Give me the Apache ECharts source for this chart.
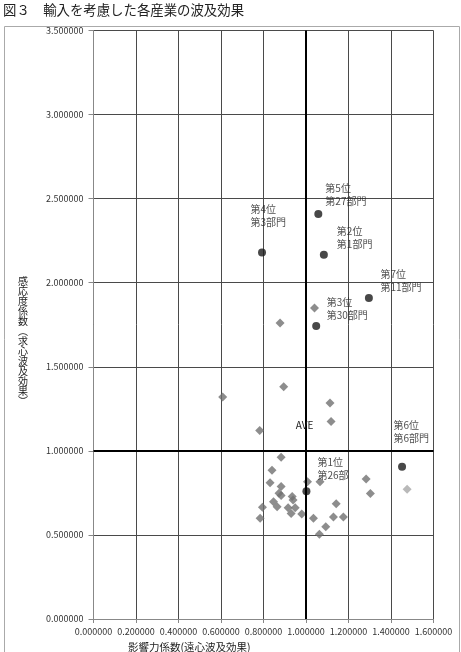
<!DOCTYPE html>
<html>
<head>
<meta charset="utf-8">
<script src="https://cdn.jsdelivr.net/npm/echarts@6/dist/echarts.min.js"></script>
<style>
    html, body {margin: 0; padding: 0; background: #fff;}
    #chart {width: 461px; height: 652px;}
</style>
</head>
<body>
<div id="chart"></div>
<script>
// 上位部門（●）
const topPoints = [
    [1.058, 2.409],
    [0.793, 2.179],
    [1.084, 2.167],
    [1.296, 1.909],
    [1.048, 1.742],
    [1.452, 0.905],
    [1.002, 0.760]
];
const topLabels = ['第5位\n第27部門', '第4位\n第3部門', '第2位\n第1部門', '第7位\n第11部門',
    '第3位\n第30部門', '第6位\n第6部門', '第1位\n第26部'];

// その他の部門（◆）
const otherPoints = [
    [1.040, 1.849], [0.878, 1.760], [0.895, 1.381], [0.608, 1.320], [1.113, 1.284],
    [1.118, 1.174], [0.782, 1.121], [0.883, 0.962], [0.840, 0.885], [0.831, 0.810],
    [0.883, 0.788], [1.007, 0.817], [1.066, 0.817], [0.873, 0.748], [0.883, 0.734],
    [0.935, 0.728], [0.939, 0.707], [0.847, 0.698], [0.864, 0.668], [0.795, 0.665],
    [0.916, 0.661], [0.949, 0.661], [0.930, 0.627], [0.980, 0.625], [0.784, 0.599],
    [1.035, 0.599], [1.142, 0.686], [1.129, 0.607], [1.176, 0.607], [1.093, 0.548],
    [1.063, 0.504], [1.283, 0.833], [1.303, 0.746]
];
const lightPoints = [[1.476, 0.772]];

const average = [1.0, 1.0];
const xTicks = {min: 0, max: 1.6, interval: 0.2};
const yTicks = {min: 0, max: 3.5, interval: 0.5};

// ラベルの位置（点からのずれ）
const labelOffsets = [[7, -19.5], [-11.5, -36.5], [13, -17], [11.5, -17], [10.5, -17], [-8.5, -35], [11, -22.5]];

const font = '"Noto Sans CJK JP", "Noto Sans", sans-serif';
const myChart = echarts.init(document.getElementById('chart'));

let option = {
    animation: false,
    backgroundColor: '#fff',
    grid: {left: 93.5, right: 27.5, top: 30.5, bottom: 33},
    xAxis: {
        type: 'value',
        min: xTicks.min, max: xTicks.max, interval: xTicks.interval,
        axisLine: {show: true, onZero: false, lineStyle: {color: '#888'}},
        axisTick: {show: true, length: 4, lineStyle: {color: '#888'}},
        axisLabel: {
            color: '#333', fontSize: 9, margin: 8, fontFamily: font,
            formatter: v => v.toFixed(6)
        },
        splitLine: {show: true, lineStyle: {color: '#4a4a4a', width: 1}}
    },
    yAxis: {
        type: 'value',
        min: yTicks.min, max: yTicks.max, interval: yTicks.interval,
        axisLine: {show: true, onZero: false, lineStyle: {color: '#888'}},
        axisTick: {show: true, length: 5, lineStyle: {color: '#888'}},
        axisLabel: {
            color: '#333', fontSize: 9, margin: 10, fontFamily: font,
            formatter: v => v.toFixed(6)
        },
        splitLine: {show: true, lineStyle: {color: '#4a4a4a', width: 1}}
    },
    graphic: [
        {
            type: 'rect', left: 2, top: 24, z: -1,
            shape: {width: 455, height: 640},
            style: {fill: 'none', stroke: '#aaa', lineWidth: 1}
        },
        {
            type: 'text', left: 3, top: 3,
            style: {text: '図３　輸入を考慮した各産業の波及効果', fontSize: 13.4, fill: '#222', fontFamily: font}
        },
        {
            type: 'text', left: 18, top: 276,
            style: {
                text: '感応度係数︵求心波及効果︶'.split('').join('\n'),
                fontSize: 10, lineHeight: 10, fill: '#222', fontFamily: font, align: 'left'
            }
        },
        {
            type: 'text', left: 128, top: 642,
            style: {text: '影響力係数(遠心波及効果)', fontSize: 10.5, fill: '#222', fontFamily: font}
        }
    ],
    series: [
        {
            type: 'scatter',
            data: otherPoints,
            symbol: 'diamond',
            symbolSize: 9,
            itemStyle: {color: '#707070'},
            markLine: {
                silent: true,
                symbol: 'none',
                label: {show: false},
                lineStyle: {color: '#000', width: 2, type: 'solid'},
                data: [{xAxis: average[0]}, {yAxis: average[1]}]
            },
            markPoint: {
                symbol: 'circle', symbolSize: 1,
                itemStyle: {color: 'rgba(0,0,0,0)'},
                label: {
                    show: true, formatter: 'AVE', color: '#222', fontSize: 10,
                    fontFamily: font, offset: [-1.5, -25.5]
                },
                data: [{coord: average}]
            }
        },
        {
            type: 'scatter',
            data: lightPoints,
            symbol: 'diamond',
            symbolSize: 9,
            itemStyle: {color: '#a8a8a8'}
        },
        {
            type: 'scatter',
            data: topPoints.map((p, i) => ({
                value: p,
                label: {
                    show: true,
                    formatter: topLabels[i],
                    position: 'inside',
                    align: 'left',
                    offset: labelOffsets[i],
                    color: '#222', fontSize: 10, lineHeight: 13, fontFamily: font
                }
            })),
            symbol: 'circle',
            symbolSize: 8,
            itemStyle: {color: '#1a1a1a'},
            z: 3
        }
    ]
};
myChart.setOption(option);
</script>
</body>
</html>
